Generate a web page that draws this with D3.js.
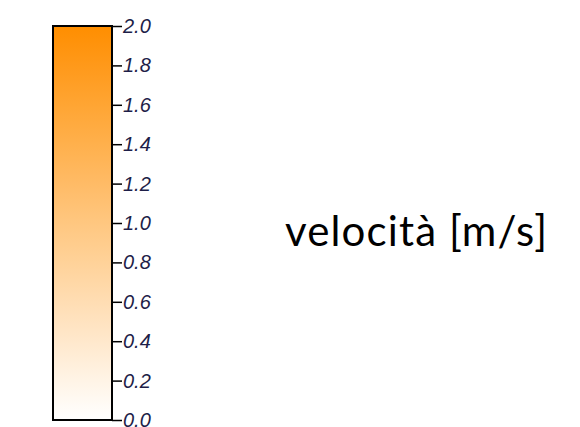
<!DOCTYPE html>
<html>
<head>
<meta charset="utf-8">
<script src="https://cdn.jsdelivr.net/npm/d3@7"></script>
<style>
  body { margin: 0; background: #fff; }
  .axis text { font-family: "Liberation Sans", Arial, sans-serif; font-style: italic; font-size: 20px; fill: #1e1e48; }
</style>
</head>
<body>
<div id="chart"></div>
<script>
var width = 580,
    height = 427;

// legend data
var domain = [0, 2];
var tickValues = [0, 0.2, 0.4, 0.6, 0.8, 1.0, 1.2, 1.4, 1.6, 1.8, 2.0];
var colorRange = ["#ffffff", "#ff8e00"];
var title = "velocità [m/s]";

var svg = d3.select("#chart").append("svg")
    .attr("width", width)
    .attr("height", height);

var barX = 53, barW = 59;

var y = d3.scaleLinear()
    .domain(domain)
    .range([420, 26]);

var color = d3.scaleLinear()
    .domain(domain)
    .range(colorRange);

// gradient
var grad = svg.append("defs").append("linearGradient")
    .attr("id", "legendGrad")
    .attr("x1", 0).attr("y1", 1)
    .attr("x2", 0).attr("y2", 0);

grad.selectAll("stop")
    .data(d3.range(0, 1.0001, 0.1))
  .enter().append("stop")
    .attr("offset", function(d) { return d; })
    .attr("stop-color", function(d) { return color(domain[0] + d * (domain[1] - domain[0])); });

svg.append("rect")
    .attr("x", barX)
    .attr("y", y(domain[1]))
    .attr("width", barW)
    .attr("height", y(domain[0]) - y(domain[1]))
    .attr("fill", "url(#legendGrad)")
    .attr("stroke", "#000")
    .attr("stroke-width", 2);

var axis = d3.axisRight(y)
    .tickValues(tickValues)
    .tickFormat(d3.format(".1f"))
    .tickSize(10)
    .tickPadding(1);

var g = svg.append("g")
    .attr("class", "axis")
    .attr("transform", "translate(" + (barX + barW) + ",0)")
    .call(axis);

g.select(".domain").remove();
g.selectAll(".tick line").attr("stroke", "#000").attr("stroke-width", 1.5);

// title
svg.append("text")
    .attr("x", 285)
    .attr("y", 246)
    .attr("textLength", 262)
    .attr("lengthAdjust", "spacing")
    .style("font-family", "Lato, 'Open Sans', sans-serif")
    .style("font-size", "42px")
    .style("fill", "#000")
    .text(title);
</script>
</body>
</html>
